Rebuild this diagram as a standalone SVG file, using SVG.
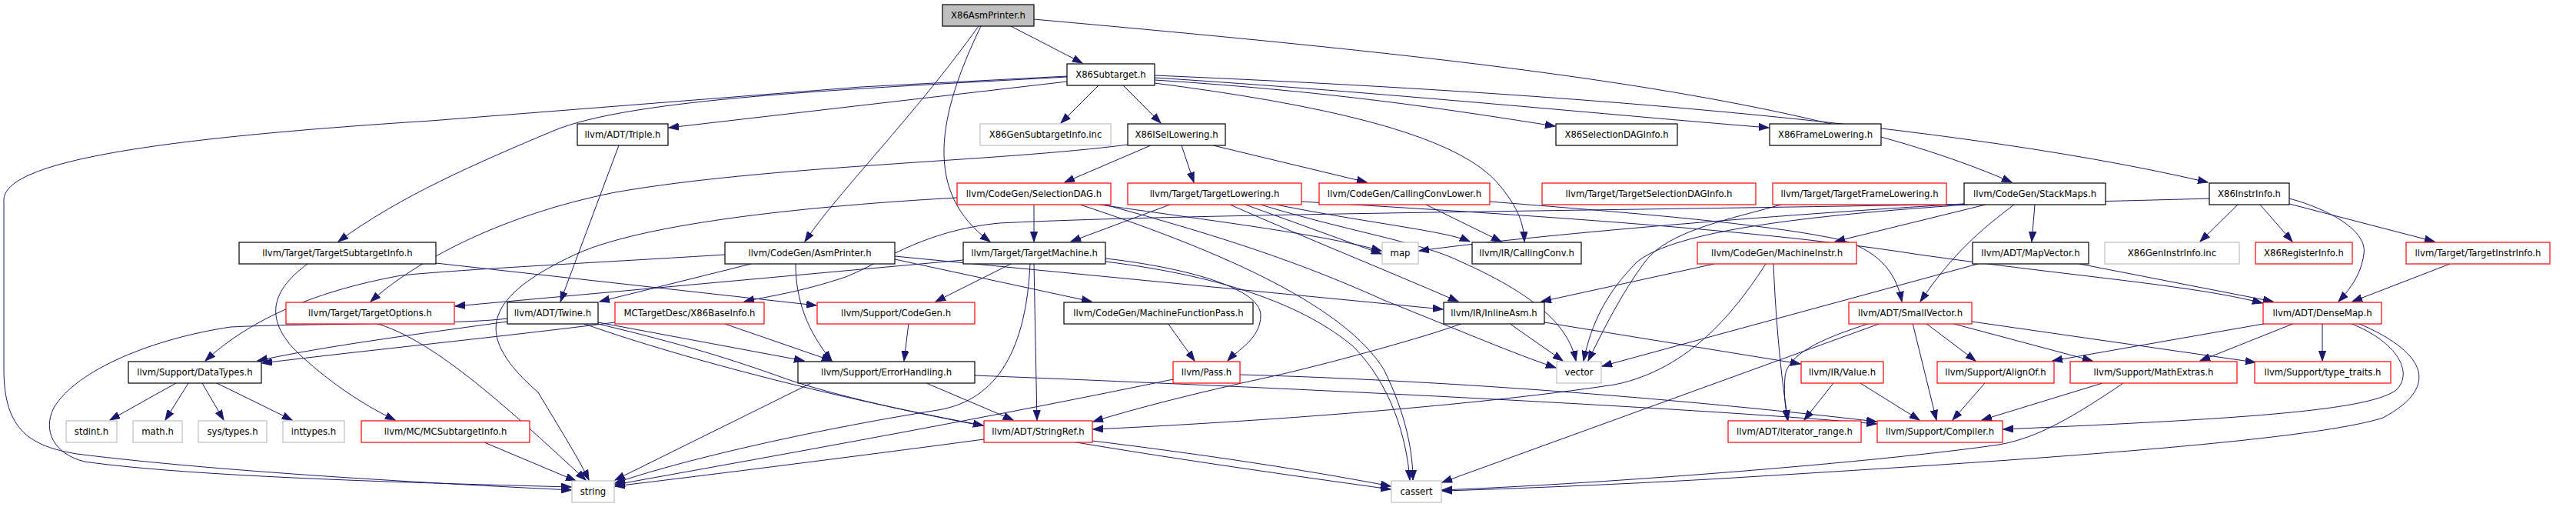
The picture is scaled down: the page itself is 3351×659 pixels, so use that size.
<svg xmlns="http://www.w3.org/2000/svg" width="3351" height="659" viewBox="0 0 3351 659">
<style>
rect{fill:#fff;stroke:#000;stroke-width:1.2}
.r rect{stroke:#f00}
.g rect{stroke:#bfbfbf}
.top rect{fill:#bfbfbf}
text{font-family:"DejaVu Sans","Liberation Sans",sans-serif;font-size:11.67px;text-anchor:middle;fill:#000}
#edges path{fill:none;stroke:#191970;stroke-width:1;marker-end:url(#a)}
</style>
<defs>
<marker id="a" markerUnits="userSpaceOnUse" markerWidth="14" markerHeight="10" refX="13" refY="5" orient="auto"><path d="M0,0.4 L13,5 L0,9.6 z" fill="#191970" stroke="#191970" stroke-width="1"/></marker>
</defs>
<rect x="0" y="0" width="3351" height="659" style="fill:#fff;stroke:none"/>
<g id="edges">
<path d="M1315,34 L1408,82"/>
<path d="M1273,34 C1190,150 1090,250 1047,314"/>
<path d="M1276,34 C1220,150 1200,250 1288,314"/>
<path d="M1345,25 C1900,75 2350,120 2617,237"/>
<path d="M1429,111 L1380,160"/>
<path d="M1461,111 L1510,160"/>
<path d="M1388,106 L870,166"/>
<path d="M1388,100 C1100,116 820,128 720,170 C620,212 520,255 440,314"/>
<path d="M1388,99 L1120,113 L560,157 C200,180 5,210 5,260 L5,480 C5,560 40,580 100,590 C300,615 600,630 743,637"/>
<path d="M1502,104 C1750,120 1900,145 2023,164"/>
<path d="M1502,101 C1800,120 2100,150 2301,166"/>
<path d="M1502,98 C1900,115 2500,150 2872,237"/>
<path d="M1502,108 C1750,140 1900,180 1950,240 C1975,270 1982,290 1983,314"/>
<path d="M1497,189 L1385,237"/>
<path d="M1537,189 L1553,237"/>
<path d="M1578,189 L1778,237"/>
<path d="M1467,188 C1300,210 1000,215 800,250 C650,280 540,340 482,392"/>
<path d="M1345,266 L1345,314"/>
<path d="M1245,257 C1100,265 850,285 750,330 C620,390 620,440 700,510 C730,560 755,600 766,624"/>
<path d="M1405,266 C1600,330 1750,400 1800,480 C1830,540 1838,590 1838,624"/>
<path d="M1430,266 C1600,290 1720,305 1797,326"/>
<path d="M1437,266 C1600,310 1700,345 1800,390 C1900,430 1970,460 2024,478"/>
<path d="M1522,266 L1393,314"/>
<path d="M1620,266 L1797,330"/>
<path d="M1640,266 C1750,300 1850,315 1900,340 C1990,380 2040,420 2050,469"/>
<path d="M1660,266 C1780,290 1880,300 1912,314"/>
<path d="M1600,266 C1700,310 1800,350 1897,392"/>
<path d="M1693,262 C2000,280 2300,300 2490,330 C2700,360 2850,370 2943,394"/>
<path d="M1855,266 L1953,314"/>
<path d="M1938,262 C2100,275 2300,290 2400,313 C2450,330 2468,360 2474,392"/>
<path d="M2317,266 C2250,285 2170,300 2140,340 C2110,380 2085,430 2066,469"/>
<path d="M2647,266 L2643,314"/>
<path d="M2620,266 C2575,300 2540,330 2498,392"/>
<path d="M2583,266 L2387,314"/>
<path d="M2555,265 C2300,280 2000,305 1846,326"/>
<path d="M2560,266 C2350,280 2180,300 2130,340 C2090,380 2070,420 2060,469"/>
<path d="M2911,266 L2862,314"/>
<path d="M2940,266 L2982,314"/>
<path d="M2978,265 L3167,314"/>
<path d="M2978,258 C3030,272 3080,300 3075,330 C3072,355 3058,375 3042,392"/>
<path d="M2874,258 C2400,272 1600,275 1300,290 C1200,300 1150,340 1100,360 C1040,380 1000,385 968,392"/>
<path d="M3187,343 L3060,392"/>
<path d="M400,343 C350,380 340,420 400,470 C440,505 480,530 514,546"/>
<path d="M567,342 L1062,397"/>
<path d="M943,331 C800,340 600,350 522,358 C400,380 320,420 267,469"/>
<path d="M977,343 L780,392"/>
<path d="M1035,343 C1035,390 1050,430 1082,469"/>
<path d="M1164,337 L1420,392"/>
<path d="M1164,333 L1877,402"/>
<path d="M1253,338 L592,398"/>
<path d="M1315,343 L1217,392"/>
<path d="M1340,343 C1335,450 1300,520 1220,533 C1050,560 880,600 800,628"/>
<path d="M1345,343 L1349,546"/>
<path d="M1438,336 C1520,345 1640,370 1640,410 C1640,440 1610,455 1597,469"/>
<path d="M1438,340 C1600,360 1700,400 1760,450 C1810,500 1830,570 1834,624"/>
<path d="M805,189 L729,392"/>
<path d="M660,418 C560,432 420,450 335,469"/>
<path d="M660,414 C600,422 400,420 300,425 C200,440 100,480 70,530 C55,560 70,590 110,600 C250,620 550,628 743,633"/>
<path d="M778,419 L1046,469"/>
<path d="M760,421 C900,470 1100,520 1279,553"/>
<path d="M778,421 C900,450 960,470 1030,495 C1200,550 1550,600 1809,636"/>
<path d="M800,419 C650,438 480,455 341,472"/>
<path d="M940,420 L1082,469"/>
<path d="M1182,420 L1176,469"/>
<path d="M1519,420 L1554,469"/>
<path d="M1963,420 L2033,469"/>
<path d="M1903,420 C1850,440 1700,480 1642,492 C1560,510 1480,530 1422,548"/>
<path d="M2009,419 L2342,473"/>
<path d="M2230,343 L2005,392"/>
<path d="M2307,343 C2310,420 2318,500 2326,546"/>
<path d="M2297,343 C2260,400 2200,480 2100,500 C1900,530 1600,550 1422,558"/>
<path d="M2433,420 C2370,440 2325,460 2322,490 C2320,515 2323,530 2325,546"/>
<path d="M2488,420 L2519,546"/>
<path d="M2505,420 L2570,469"/>
<path d="M2538,420 L2722,469"/>
<path d="M2565,418 L2934,471"/>
<path d="M2447,420 L1876,627"/>
<path d="M2950,420 L2670,469"/>
<path d="M2985,420 L2862,469"/>
<path d="M3021,420 L3021,469"/>
<path d="M3057,420 C3120,445 3140,485 3117,507 C3080,535 2900,545 2606,558"/>
<path d="M3067,420 C3150,455 3180,500 3100,543 C3000,575 2600,600 2240,622 C2100,630 1950,636 1876,638"/>
<path d="M2573,343 L2084,476"/>
<path d="M2705,343 L2957,392"/>
<path d="M229,498 L143,546"/>
<path d="M245,498 L215,546"/>
<path d="M263,498 L291,546"/>
<path d="M282,498 L380,546"/>
<path d="M1205,498 L1318,546"/>
<path d="M1268,488 C1700,505 2200,530 2441,551"/>
<path d="M1055,498 L800,624"/>
<path d="M1526,493 C1300,540 1050,585 800,630"/>
<path d="M1613,487 C1900,495 2200,520 2441,548"/>
<path d="M2385,498 L2347,546"/>
<path d="M2420,498 L2497,546"/>
<path d="M2582,498 L2540,546"/>
<path d="M2735,498 L2578,546"/>
<path d="M2762,498 C2700,540 2650,570 2600,578 C2450,600 2100,628 1876,637"/>
<path d="M1280,571 C1100,595 900,620 800,632"/>
<path d="M1421,573 C1600,595 1720,615 1809,632"/>
<path d="M630,575 L749,625"/>
<path d="M488,420 C560,440 650,520 762,624"/>
</g>
<g id="n_asmprinter" class="top"><rect x="1226" y="6" width="119" height="28"/><text x="1285.5" y="24">X86AsmPrinter.h</text></g>
<g id="n_subtarget"><rect x="1388" y="83" width="114" height="28"/><text x="1445" y="101">X86Subtarget.h</text></g>
<g id="n_triple"><rect x="751" y="161" width="118" height="28"/><text x="810" y="179">llvm/ADT/Triple.h</text></g>
<g id="n_gensub" class="g"><rect x="1275" y="161" width="170" height="28"/><text x="1360" y="179">X86GenSubtargetInfo.inc</text></g>
<g id="n_isel"><rect x="1467" y="161" width="127" height="28"/><text x="1530.5" y="179">X86ISelLowering.h</text></g>
<g id="n_sdinfo"><rect x="2024" y="161" width="158" height="28"/><text x="2103" y="179">X86SelectionDAGInfo.h</text></g>
<g id="n_framel"><rect x="2302" y="161" width="145" height="28"/><text x="2374.5" y="179">X86FrameLowering.h</text></g>
<g id="n_sdag" class="r"><rect x="1245" y="238" width="200" height="28"/><text x="1345" y="256">llvm/CodeGen/SelectionDAG.h</text></g>
<g id="n_tlow" class="r"><rect x="1467" y="238" width="226" height="28"/><text x="1580" y="256">llvm/Target/TargetLowering.h</text></g>
<g id="n_cclow" class="r"><rect x="1716" y="238" width="222" height="28"/><text x="1827" y="256">llvm/CodeGen/CallingConvLower.h</text></g>
<g id="n_tsdi" class="r"><rect x="2006" y="238" width="278" height="28"/><text x="2145" y="256">llvm/Target/TargetSelectionDAGInfo.h</text></g>
<g id="n_tfl" class="r"><rect x="2306" y="238" width="226" height="28"/><text x="2419" y="256">llvm/Target/TargetFrameLowering.h</text></g>
<g id="n_stackmaps"><rect x="2555" y="238" width="184" height="28"/><text x="2647" y="256">llvm/CodeGen/StackMaps.h</text></g>
<g id="n_instrinfo"><rect x="2874" y="238" width="104" height="28"/><text x="2926" y="256">X86InstrInfo.h</text></g>
<g id="n_tsi"><rect x="311" y="315" width="256" height="28"/><text x="439" y="333">llvm/Target/TargetSubtargetInfo.h</text></g>
<g id="n_cgasmprinter"><rect x="943" y="315" width="221" height="28"/><text x="1053.5" y="333">llvm/CodeGen/AsmPrinter.h</text></g>
<g id="n_tm"><rect x="1253" y="315" width="185" height="28"/><text x="1345.5" y="333">llvm/Target/TargetMachine.h</text></g>
<g id="n_map" class="g"><rect x="1798" y="315" width="47" height="28"/><text x="1821.5" y="333">map</text></g>
<g id="n_cc"><rect x="1915" y="315" width="142" height="28"/><text x="1986" y="333">llvm/IR/CallingConv.h</text></g>
<g id="n_mi" class="r"><rect x="2208" y="315" width="207" height="28"/><text x="2311.5" y="333">llvm/CodeGen/MachineInstr.h</text></g>
<g id="n_mapvector"><rect x="2566" y="315" width="151" height="28"/><text x="2641.5" y="333">llvm/ADT/MapVector.h</text></g>
<g id="n_geninstr" class="g"><rect x="2738" y="315" width="175" height="28"/><text x="2825.5" y="333">X86GenInstrInfo.inc</text></g>
<g id="n_reginfo" class="r"><rect x="2934" y="315" width="126" height="28"/><text x="2997" y="333">X86RegisterInfo.h</text></g>
<g id="n_tii" class="r"><rect x="3130" y="315" width="187" height="28"/><text x="3223.5" y="333">llvm/Target/TargetInstrInfo.h</text></g>
<g id="n_topt" class="r"><rect x="372" y="393" width="219" height="28"/><text x="481.5" y="411">llvm/Target/TargetOptions.h</text></g>
<g id="n_twine"><rect x="660" y="393" width="118" height="28"/><text x="719" y="411">llvm/ADT/Twine.h</text></g>
<g id="n_baseinfo" class="r"><rect x="800" y="393" width="194" height="28"/><text x="897" y="411">MCTargetDesc/X86BaseInfo.h</text></g>
<g id="n_codegen" class="r"><rect x="1063" y="393" width="205" height="28"/><text x="1165.5" y="411">llvm/Support/CodeGen.h</text></g>
<g id="n_mfp"><rect x="1384" y="393" width="246" height="28"/><text x="1507" y="411">llvm/CodeGen/MachineFunctionPass.h</text></g>
<g id="n_inlineasm"><rect x="1878" y="393" width="131" height="28"/><text x="1943.5" y="411">llvm/IR/InlineAsm.h</text></g>
<g id="n_smallvector" class="r"><rect x="2405" y="393" width="160" height="28"/><text x="2485" y="411">llvm/ADT/SmallVector.h</text></g>
<g id="n_densemap" class="r"><rect x="2944" y="393" width="154" height="28"/><text x="3021" y="411">llvm/ADT/DenseMap.h</text></g>
<g id="n_datatypes"><rect x="167" y="470" width="173" height="28"/><text x="253.5" y="488">llvm/Support/DataTypes.h</text></g>
<g id="n_errorhandling"><rect x="1038" y="470" width="230" height="28"/><text x="1153" y="488">llvm/Support/ErrorHandling.h</text></g>
<g id="n_pass" class="r"><rect x="1526" y="470" width="87" height="28"/><text x="1569.5" y="488">llvm/Pass.h</text></g>
<g id="n_vector" class="g"><rect x="2025" y="470" width="58" height="28"/><text x="2054" y="488">vector</text></g>
<g id="n_value" class="r"><rect x="2343" y="470" width="107" height="28"/><text x="2396.5" y="488">llvm/IR/Value.h</text></g>
<g id="n_alignof" class="r"><rect x="2520" y="470" width="152" height="28"/><text x="2596" y="488">llvm/Support/AlignOf.h</text></g>
<g id="n_mathextras" class="r"><rect x="2693" y="470" width="217" height="28"/><text x="2801.5" y="488">llvm/Support/MathExtras.h</text></g>
<g id="n_typetraits" class="r"><rect x="2933" y="470" width="177" height="28"/><text x="3021.5" y="488">llvm/Support/type_traits.h</text></g>
<g id="n_stdint" class="g"><rect x="86" y="547" width="66" height="28"/><text x="119" y="565">stdint.h</text></g>
<g id="n_math" class="g"><rect x="173" y="547" width="64" height="28"/><text x="205" y="565">math.h</text></g>
<g id="n_systypes" class="g"><rect x="258" y="547" width="89" height="28"/><text x="302.5" y="565">sys/types.h</text></g>
<g id="n_inttypes" class="g"><rect x="368" y="547" width="80" height="28"/><text x="408" y="565">inttypes.h</text></g>
<g id="n_mcsi" class="r"><rect x="470" y="547" width="219" height="28"/><text x="579.5" y="565">llvm/MC/MCSubtargetInfo.h</text></g>
<g id="n_stringref" class="r"><rect x="1280" y="547" width="141" height="28"/><text x="1350.5" y="565">llvm/ADT/StringRef.h</text></g>
<g id="n_iterrange" class="r"><rect x="2248" y="547" width="173" height="28"/><text x="2334.5" y="565">llvm/ADT/iterator_range.h</text></g>
<g id="n_compiler" class="r"><rect x="2442" y="547" width="163" height="28"/><text x="2523.5" y="565">llvm/Support/Compiler.h</text></g>
<g id="n_string" class="g"><rect x="744" y="625" width="55" height="28"/><text x="771.5" y="643">string</text></g>
<g id="n_cassert" class="g"><rect x="1810" y="625" width="65" height="28"/><text x="1842.5" y="643">cassert</text></g>
</svg>
